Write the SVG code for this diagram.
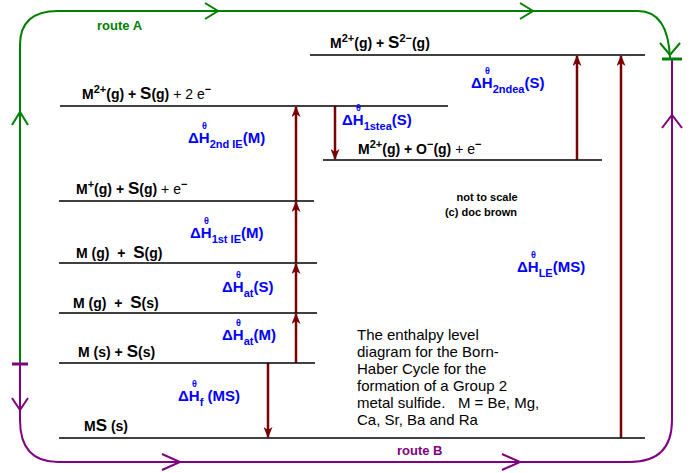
<svg xmlns="http://www.w3.org/2000/svg" width="700" height="473" viewBox="0 0 700 473">
<style>
text{font-family:"Liberation Sans",Arial,sans-serif}
.lv{stroke:#000;stroke-width:1.3}
.sp{font-weight:bold;font-size:14px;fill:#000}
.big{font-size:17px}
.lb{font-weight:bold;font-size:15px;fill:#0000ff}
.th{font-weight:bold;font-size:9px;fill:#0000ff}
.sb{font-size:11px}
.ar{stroke:#7a0000;stroke-width:2.5;fill:none}
.g{stroke:#008000;stroke-width:2;fill:none}
.p{stroke:#800080;stroke-width:2;fill:none}
.p2{font-size:15px;fill:#000}
</style>
<defs>
<marker id="ah" markerWidth="11" markerHeight="9" refX="10" refY="4.5" orient="auto" markerUnits="userSpaceOnUse" viewBox="0 0 11 9">
<path d="M11,4.5 L0,0 L3,4.5 L0,9 Z" fill="#7a0000"/>
</marker>
</defs>
<rect width="700" height="473" fill="#fff"/>
<g id="connectors">
<path class="g" d="M20,363 V45 Q20,11 58,11 H638 Q668,11 670,58"/>
<path class="g" d="M12,125 L20,112 L28,125 M205,3 L218,11 L205,19 M520,3 L533,11 L520,19 M660,43 L670,55 L680,43"/>
<path class="p" d="M20,363 V420 Q20,462 58,462 H630 Q672,462 672,420 V58"/>
<path class="p" d="M12,398 L20,410 L28,398 M162,454 L180,462 L162,470 M502,454 L520,462 L502,470 M662,128 L672,115 L682,128"/>
<path d="M12,364 H28" stroke="#800080" stroke-width="3"/>
<path d="M662,59 H682" stroke="#008000" stroke-width="3"/>
<line class="ar" x1="296" y1="363" x2="296" y2="314" marker-end="url(#ah)"/>
<line class="ar" x1="296" y1="313" x2="296" y2="264" marker-end="url(#ah)"/>
<line class="ar" x1="296" y1="263" x2="296" y2="202" marker-end="url(#ah)"/>
<line class="ar" x1="296" y1="201" x2="296" y2="107" marker-end="url(#ah)"/>
<line class="ar" x1="335" y1="106" x2="335" y2="159" marker-end="url(#ah)"/>
<line class="ar" x1="577" y1="160" x2="577" y2="56" marker-end="url(#ah)"/>
<line class="ar" x1="621" y1="438" x2="621" y2="56" marker-end="url(#ah)"/>
<line class="ar" x1="268" y1="363" x2="268" y2="437" marker-end="url(#ah)"/>
</g>
<g id="l1"><line class="lv" x1="310" y1="55" x2="645" y2="55"/><text class="sp" x="330" y="48">M<tspan class="sb" dy="-6">2+</tspan><tspan dy="6">(g) + </tspan><tspan class="big">S</tspan><tspan class="sb" dy="-6">2−</tspan><tspan dy="6">(g)</tspan></text></g>
<g id="l2"><line class="lv" x1="60" y1="106" x2="448" y2="106"/><text class="sp" x="82" y="99">M<tspan class="sb" dy="-6">2+</tspan><tspan dy="6">(g) + </tspan><tspan class="big">S</tspan>(g) <tspan font-weight="normal">+ 2 e</tspan><tspan class="sb" dy="-6">−</tspan></text></g>
<g id="l3"><line class="lv" x1="323" y1="160" x2="602" y2="160"/><text class="sp" x="358" y="154">M<tspan class="sb" dy="-6">2+</tspan><tspan dy="6">(g) + O</tspan><tspan class="sb" dy="-6">−</tspan><tspan dy="6">(g) </tspan><tspan font-weight="normal">+ e</tspan><tspan class="sb" dy="-6">−</tspan></text></g>
<g id="l4"><line class="lv" x1="59" y1="201" x2="314" y2="201"/><text class="sp" x="76" y="194">M<tspan class="sb" dy="-6">+</tspan><tspan dy="6">(g) + </tspan><tspan class="big">S</tspan>(g) <tspan font-weight="normal">+ e</tspan><tspan class="sb" dy="-6">−</tspan></text></g>
<g id="l5"><line class="lv" x1="59" y1="263" x2="317" y2="263"/><text class="sp" x="76" y="258" xml:space="preserve">M (g)  +  <tspan class="big">S</tspan>(g)</text></g>
<g id="l6"><line class="lv" x1="59" y1="313" x2="317" y2="313"/><text class="sp" x="73" y="308" xml:space="preserve">M (g)  +  <tspan class="big">S</tspan>(s)</text></g>
<g id="l7"><line class="lv" x1="59" y1="363" x2="315" y2="363"/><text class="sp" x="78" y="357">M (s) + <tspan class="big">S</tspan>(s)</text></g>
<g id="l8"><line class="lv" x1="59" y1="438" x2="645" y2="438"/><text class="sp" x="84" y="431">M<tspan class="big">S</tspan> (s)</text></g>
<g id="labels">
<text class="lb" x="188" y="143">ΔH<tspan class="sb" dy="5">2nd IE</tspan><tspan dy="-5">(M)</tspan></text><text class="th" x="202" y="129">θ</text>
<text class="lb" x="190" y="238">ΔH<tspan class="sb" dy="5">1st IE</tspan><tspan dy="-5">(M)</tspan></text><text class="th" x="204" y="224">θ</text>
<text class="lb" x="222" y="292">ΔH<tspan class="sb" dy="5">at</tspan><tspan dy="-5">(S)</tspan></text><text class="th" x="236" y="278">θ</text>
<text class="lb" x="222" y="340">ΔH<tspan class="sb" dy="5">at</tspan><tspan dy="-5">(M)</tspan></text><text class="th" x="236" y="326">θ</text>
<text class="lb" x="178" y="401">ΔH<tspan class="sb" dy="5">f</tspan><tspan dy="-5"> (MS)</tspan></text><text class="th" x="192" y="387">θ</text>
<text class="lb" x="342" y="125">ΔH<tspan class="sb" dy="5">1stea</tspan><tspan dy="-5">(S)</tspan></text><text class="th" x="356" y="111">θ</text>
<text class="lb" x="471" y="88">ΔH<tspan class="sb" dy="5">2ndea</tspan><tspan dy="-5">(S)</tspan></text><text class="th" x="485" y="74">θ</text>
<text class="lb" x="517" y="272">ΔH<tspan class="sb" dy="5">LE</tspan><tspan dy="-5">(MS)</tspan></text><text class="th" x="531" y="258">θ</text>
<text x="97" y="30" font-weight="bold" font-size="13" fill="#008000">route A</text>
<text x="397" y="455" font-weight="bold" font-size="13" fill="#800080">route B</text>
<text x="487" y="201" font-weight="bold" font-size="11" text-anchor="middle">not to scale</text>
<text x="481" y="216" font-weight="bold" font-size="11" text-anchor="middle">(c) doc brown</text>
<text class="p2" x="357" xml:space="preserve"><tspan x="357" y="340">The enthalpy level</tspan><tspan x="357" y="357">diagram for the Born-</tspan><tspan x="357" y="374">Haber Cycle for the</tspan><tspan x="357" y="391">formation of a Group 2</tspan><tspan x="357" y="408">metal sulfide.   M = Be, Mg,</tspan><tspan x="357" y="425">Ca, Sr, Ba and Ra</tspan></text>
</g>
</svg>
